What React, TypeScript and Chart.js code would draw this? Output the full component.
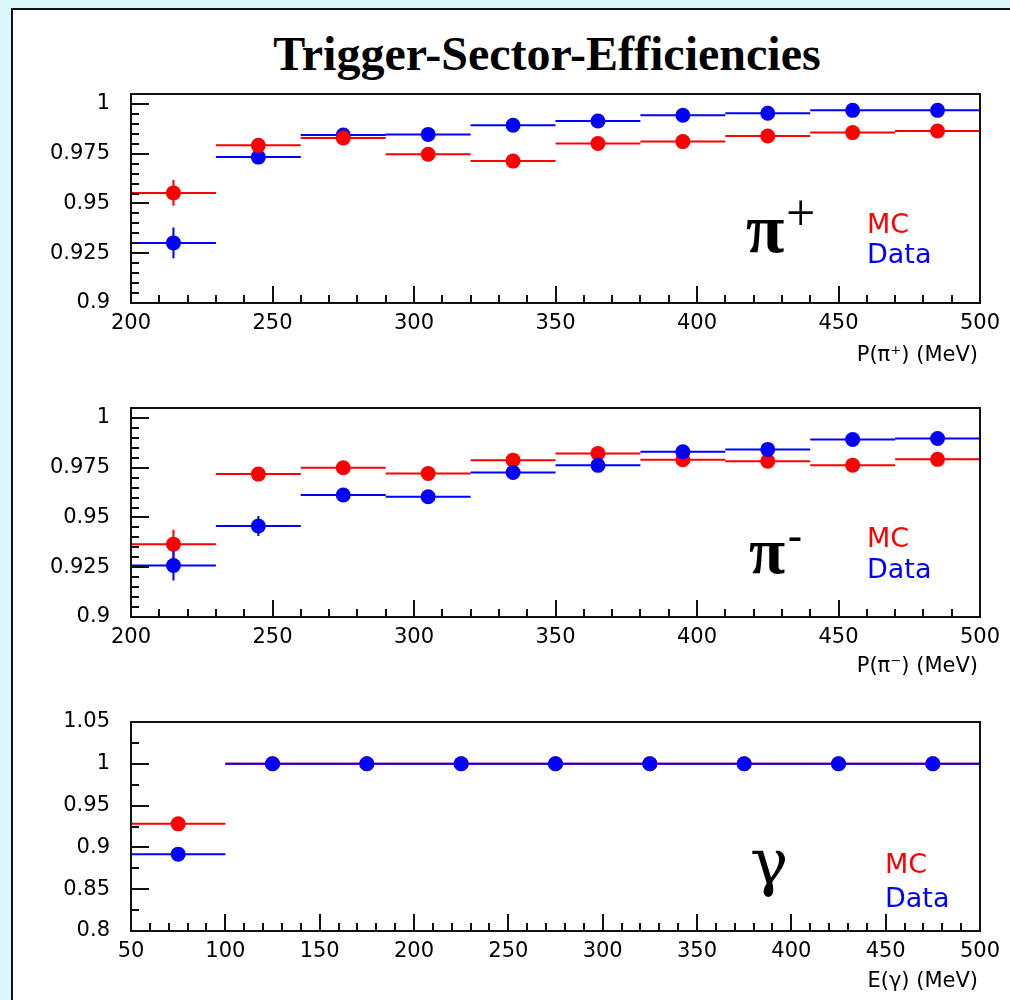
import React, { useEffect, useRef } from "react";
import { Chart, registerables } from "chart.js";

Chart.register(...registerables);

// ---------- DATA ----------
const piBinCenters = [215, 245, 275, 305, 335, 365, 395, 425, 455, 485];
const piBinHalfWidth = 15;

const piPlusMC = [0.9553, 0.9792, 0.9829, 0.9747, 0.9713, 0.9801, 0.9811, 0.9839, 0.9856, 0.9864];
const piPlusMCErr = [0.0065, 0.0015, 0.0015, 0.0015, 0.0015, 0.0015, 0.0015, 0.0015, 0.0015, 0.0015];
const piPlusData = [0.9302, 0.9733, 0.9844, 0.9847, 0.9893, 0.9914, 0.9943, 0.9953, 0.9968, 0.9968];
const piPlusDataErr = [0.0077, 0.0015, 0.0015, 0.0015, 0.0015, 0.0015, 0.0015, 0.0015, 0.0015, 0.0015];

const piMinusMC = [0.9366, 0.9718, 0.975, 0.9721, 0.9788, 0.9822, 0.979, 0.9783, 0.9763, 0.9792];
const piMinusMCErr = [0.0072, 0.0015, 0.0015, 0.0015, 0.0015, 0.0015, 0.0015, 0.0015, 0.0015, 0.0015];
const piMinusData = [0.9259, 0.9457, 0.9613, 0.9604, 0.9726, 0.9762, 0.983, 0.9842, 0.9892, 0.9897];
const piMinusDataErr = [0.0075, 0.005, 0.0015, 0.0015, 0.0015, 0.0015, 0.0015, 0.0015, 0.0015, 0.0015];

const gammaBinCenters = [75, 125, 175, 225, 275, 325, 375, 425, 475];
const gammaBinHalfWidth = 25;
const gammaMC = [0.9282, 1, 1, 1, 1, 1, 1, 1, 1];
const gammaMCErr = [0, 0, 0, 0, 0, 0, 0, 0, 0];
const gammaData = [0.8919, 1, 1, 1, 1, 1, 1, 1, 1];
const gammaDataErr = [0, 0, 0, 0, 0, 0, 0, 0, 0];

const piXTicks = [200, 250, 300, 350, 400, 450, 500];
const piYTicks = [0.9, 0.925, 0.95, 0.975, 1];
const gammaXTicks = [50, 100, 150, 200, 250, 300, 350, 400, 450, 500];
const gammaYTicks = [0.8, 0.85, 0.9, 0.95, 1, 1.05];

const MC_COLOR = "#ff0000";
const DATA_COLOR = "#0000ff";

// ---------- helpers ----------
type Series = { color: string; values: number[]; errors: number[]; onTop: boolean };

function buildDatasets(centers: number[], half: number, series: Series[]) {
  const out: any[] = [];
  series.forEach((s) => {
    const seg: any[] = [];
    centers.forEach((c, i) => {
      const v = s.values[i];
      seg.push({ x: c - half, y: v }, { x: c + half, y: v }, { x: c, y: null });
      const e = s.errors[i];
      if (e > 0) seg.push({ x: c, y: v - e }, { x: c, y: v + e }, { x: c, y: null });
    });
    const base = s.onTop ? 0 : 10;
    out.push({
      type: "line",
      data: centers.map((c, i) => ({ x: c, y: s.values[i] })),
      showLine: false,
      pointRadius: 7.5,
      pointHoverRadius: 7.5,
      pointBackgroundColor: s.color,
      pointBorderColor: s.color,
      pointBorderWidth: 0,
      order: base,
    });
    out.push({
      type: "line",
      data: seg,
      borderColor: s.color,
      borderWidth: 2,
      pointRadius: 0,
      pointHoverRadius: 0,
      spanGaps: false,
      tension: 0,
      fill: false,
      order: base + 1,
    });
  });
  return out;
}

function range(a: number, b: number, step: number) {
  const r: number[] = [];
  const n = Math.round((b - a) / step);
  for (let i = 0; i <= n; i++) r.push(a + i * step);
  return r;
}

type PanelCfg = {
  top: number;
  height: number;
  padTop: number;
  xMin: number;
  xMax: number;
  yMin: number;
  yMax: number;
  xTicks: number[];
  yTicks: number[];
  xMinorStep: number;
  yMinorStep: number;
  centers: number[];
  half: number;
  series: Series[];
};

const tickFont = { family: "'DejaVu Sans', sans-serif", size: 21 };

function Panel({ cfg }: { cfg: PanelCfg }) {
  const ref = useRef<HTMLCanvasElement | null>(null);
  useEffect(() => {
    if (!ref.current) return;
    const xMinor = range(cfg.xMin, cfg.xMax, cfg.xMinorStep);
    const yMinor = range(cfg.yTicks[0], cfg.yMax, cfg.yMinorStep);
    const frame = {
      id: "frameTicks",
      afterDatasetsDraw(chart: any) {
        const { ctx, chartArea: a, scales } = chart;
        ctx.save();
        ctx.strokeStyle = "#111";
        ctx.lineWidth = 2;
        ctx.beginPath();
        xMinor.forEach((v) => {
          const px = Math.round(scales.x.getPixelForValue(v));
          const major = cfg.xTicks.some((t) => Math.abs(t - v) < 1e-6);
          ctx.moveTo(px, a.bottom);
          ctx.lineTo(px, a.bottom - (major ? 17 : 8));
        });
        yMinor.forEach((v) => {
          if (v > cfg.yMax + 1e-9) return;
          const py = Math.round(scales.y.getPixelForValue(v));
          const major = cfg.yTicks.some((t) => Math.abs(t - v) < 1e-6);
          ctx.moveTo(a.left, py);
          ctx.lineTo(a.left + (major ? 18 : 8), py);
        });
        ctx.stroke();
        ctx.strokeRect(a.left, a.top, a.right - a.left, a.bottom - a.top);
        ctx.restore();
      },
    };
    const chart = new Chart(ref.current, {
      type: "line",
      data: { datasets: buildDatasets(cfg.centers, cfg.half, cfg.series) },
      options: {
        animation: false,
        responsive: false,
        events: [],
        layout: { padding: { left: 0, right: 30, top: cfg.padTop, bottom: 0 } },
        plugins: { legend: { display: false }, tooltip: { enabled: false }, title: { display: false } },
        scales: {
          x: {
            type: "linear",
            min: cfg.xMin,
            max: cfg.xMax,
            afterBuildTicks: (s: any) => {
              s.ticks = cfg.xTicks.map((v) => ({ value: v }));
            },
            afterFit: (s: any) => {
              s.height = cfg.height - cfg.padTop - 209;
              s.paddingLeft = 0;
              s.paddingRight = 0;
              s.paddingTop = 0;
              s.paddingBottom = 0;
            },
            ticks: {
              autoSkip: false,
              maxRotation: 0,
              padding: 8,
              color: "#000",
              font: tickFont,
              callback: (v: any) => String(v),
            },
            grid: { display: false, drawTicks: false },
            border: { display: false },
          },
          y: {
            type: "linear",
            min: cfg.yMin,
            max: cfg.yMax,
            afterBuildTicks: (s: any) => {
              s.ticks = cfg.yTicks.map((v) => ({ value: v }));
            },
            afterFit: (s: any) => {
              s.width = 131;
              s.paddingLeft = 0;
              s.paddingRight = 0;
              s.paddingTop = 0;
              s.paddingBottom = 0;
            },
            ticks: {
              autoSkip: false,
              padding: 21,
              color: "#000",
              font: tickFont,
              callback: (v: any) => String(v),
            },
            grid: { display: false, drawTicks: false },
            border: { display: false },
          },
        },
      } as any,
      plugins: [frame],
    } as any);
    return () => chart.destroy();
  }, []);
  return (
    <canvas
      ref={ref}
      width={1010}
      height={cfg.height}
      style={{ position: "absolute", left: 0, top: cfg.top, width: 1010, height: cfg.height }}
    />
  );
}

const SERIF = "'Liberation Serif', 'Times New Roman', serif";
const GREEK = "'DejaVu Serif', 'Liberation Serif', serif";
const SANS = "'DejaVu Sans', sans-serif";

function Txt(props: {
  x?: number;
  right?: number;
  baseline: number;
  size: number;
  family?: string;
  k?: number;
  color?: string;
  bold?: boolean;
  width?: number;
  center?: boolean;
  children: React.ReactNode;
}) {
  const k = props.k ?? 0.846;
  const style: React.CSSProperties = {
    position: "absolute",
    top: props.baseline - k * props.size,
    fontSize: props.size,
    lineHeight: `${props.size}px`,
    fontFamily: props.family || SANS,
    color: props.color || "#000",
    fontWeight: props.bold ? "bold" : "normal",
    whiteSpace: "nowrap",
    zIndex: 2,
  };
  if (props.x !== undefined) style.left = props.x;
  if (props.right !== undefined) style.right = props.right;
  if (props.width !== undefined) style.width = props.width;
  if (props.center) style.textAlign = "center";
  return <div style={style}>{props.children}</div>;
}

const panels: PanelCfg[] = [
  {
    top: 80,
    height: 300,
    padTop: 14,
    xMin: 200,
    xMax: 500,
    yMin: 0.9,
    yMax: 1.005,
    xTicks: piXTicks,
    yTicks: piYTicks,
    xMinorStep: 10,
    yMinorStep: 0.005,
    centers: piBinCenters,
    half: piBinHalfWidth,
    series: [
      { color: MC_COLOR, values: piPlusMC, errors: piPlusMCErr, onTop: true },
      { color: DATA_COLOR, values: piPlusData, errors: piPlusDataErr, onTop: false },
    ],
  },
  {
    top: 390,
    height: 300,
    padTop: 18,
    xMin: 200,
    xMax: 500,
    yMin: 0.9,
    yMax: 1.005,
    xTicks: piXTicks,
    yTicks: piYTicks,
    xMinorStep: 10,
    yMinorStep: 0.005,
    centers: piBinCenters,
    half: piBinHalfWidth,
    series: [
      { color: MC_COLOR, values: piMinusMC, errors: piMinusMCErr, onTop: false },
      { color: DATA_COLOR, values: piMinusData, errors: piMinusDataErr, onTop: true },
    ],
  },
  {
    top: 700,
    height: 300,
    padTop: 22,
    xMin: 50,
    xMax: 500,
    yMin: 0.8,
    yMax: 1.05,
    xTicks: gammaXTicks,
    yTicks: gammaYTicks,
    xMinorStep: 10,
    yMinorStep: 0.025,
    centers: gammaBinCenters,
    half: gammaBinHalfWidth,
    series: [
      { color: MC_COLOR, values: gammaMC, errors: gammaMCErr, onTop: false },
      { color: DATA_COLOR, values: gammaData, errors: gammaDataErr, onTop: true },
    ],
  },
];

export default function App() {
  return (
    <div
      style={{
        position: "fixed",
        left: 0,
        top: 0,
        width: 1010,
        height: 1000,
        overflow: "hidden",
        background: "rgb(218,248,252)",
      }}
    >
      <div
        style={{
          position: "absolute",
          left: 11,
          top: 8,
          width: 1010,
          height: 1000,
          background: "#fff",
          borderLeft: "2px solid #111",
          borderTop: "2px solid #111",
        }}
      />
      <Txt x={47} width={1000} center baseline={70} size={48} family={SERIF} k={0.8375} bold>
        Trigger-Sector-Efficiencies
      </Txt>
      {panels.map((p, i) => (
        <Panel key={i} cfg={p} />
      ))}

      {/* pi+ panel labels */}
      <Txt x={746} baseline={253} size={70} family={SERIF} k={0.8375} bold>π</Txt>
      <Txt x={786} baseline={231} size={52} family={SERIF} k={0.8375}>+</Txt>
      <Txt x={867} baseline={233} size={27} color={MC_COLOR}>MC</Txt>
      <Txt x={867} baseline={263} size={27} color={DATA_COLOR}>Data</Txt>
      <Txt right={32} baseline={362} size={21}>P(π⁺) (MeV)</Txt>

      {/* pi- panel labels */}
      <Txt x={749} baseline={573} size={66} family={SERIF} k={0.8375} bold>π</Txt>
      <Txt x={788} baseline={549} size={42} family={SERIF} k={0.8375} bold>-</Txt>
      <Txt x={867} baseline={547} size={27} color={MC_COLOR}>MC</Txt>
      <Txt x={867} baseline={578} size={27} color={DATA_COLOR}>Data</Txt>
      <Txt right={32} baseline={673} size={21}>P(π⁻) (MeV)</Txt>

      {/* gamma panel labels */}
      <Txt x={750} baseline={884} size={64} family={GREEK}>γ</Txt>
      <Txt x={885} baseline={873} size={27} color={MC_COLOR}>MC</Txt>
      <Txt x={885} baseline={907} size={27} color={DATA_COLOR}>Data</Txt>
      <Txt right={32} baseline={988} size={21}>E(γ) (MeV)</Txt>
    </div>
  );
}
